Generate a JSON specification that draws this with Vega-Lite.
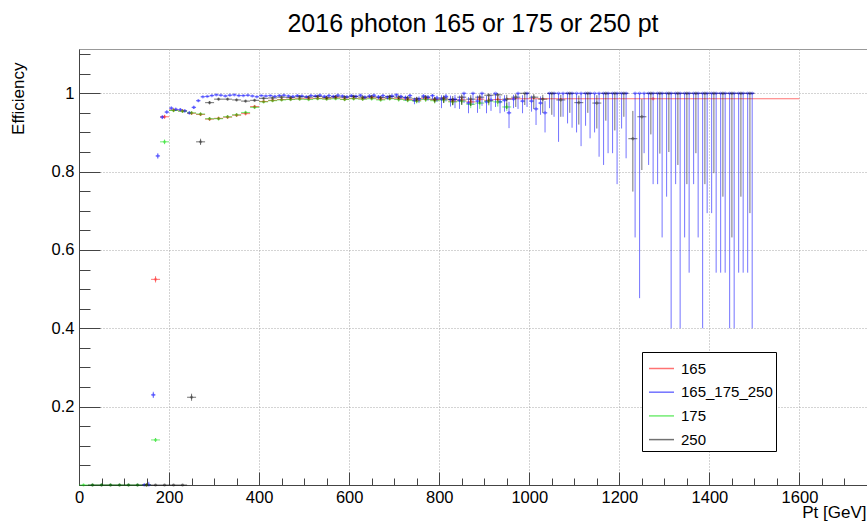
{
"$schema":"https://vega.github.io/schema/vega-lite/v6.json",
"width":788,"height":436,
"autosize":{"type":"none"},
"padding":{"left":79,"top":49,"right":0,"bottom":38},
"background":"white",
"config":{"font":"Liberation Sans","view":{"stroke":"#999","strokeWidth":1}},
"title":{"text":"2016 photon 165 or 175 or 250 pt","fontSize":25,"fontWeight":"normal","color":"#000","anchor":"middle","frame":"group","offset":12,"font":"Liberation Sans"},
"data":{"values":[
{"s":"165","x":150,"x0":140,"x1":160,"y":0,"lo":0,"hi":0.003},
{"s":"165","x":170,"x0":160,"x1":180,"y":0.525,"lo":0.517,"hi":0.533},
{"s":"165","x":190,"x0":180,"x1":200,"y":0.94,"lo":0.935,"hi":0.945},
{"s":"165","x":210,"x0":200,"x1":220,"y":0.957,"lo":0.953,"hi":0.961},
{"s":"165","x":230,"x0":220,"x1":240,"y":0.955,"lo":0.951,"hi":0.959},
{"s":"165","x":250,"x0":240,"x1":260,"y":0.949,"lo":0.945,"hi":0.953},
{"s":"165","x":270,"x0":260,"x1":280,"y":0.946,"lo":0.942,"hi":0.95},
{"s":"165","x":290,"x0":280,"x1":300,"y":0.934,"lo":0.93,"hi":0.938},
{"s":"165","x":310,"x0":300,"x1":320,"y":0.936,"lo":0.932,"hi":0.94},
{"s":"165","x":330,"x0":320,"x1":340,"y":0.939,"lo":0.935,"hi":0.943},
{"s":"165","x":350,"x0":340,"x1":360,"y":0.944,"lo":0.94,"hi":0.948},
{"s":"165","x":370,"x0":360,"x1":380,"y":0.948,"lo":0.944,"hi":0.952},
{"s":"165","x":390,"x0":380,"x1":400,"y":0.966,"lo":0.962,"hi":0.97},
{"s":"165","x":410,"x0":400,"x1":420,"y":0.979,"lo":0.976,"hi":0.982},
{"s":"165","x":430,"x0":420,"x1":440,"y":0.982,"lo":0.979,"hi":0.985},
{"s":"165","x":450,"x0":440,"x1":460,"y":0.984,"lo":0.981,"hi":0.987},
{"s":"165","x":470,"x0":460,"x1":480,"y":0.985,"lo":0.982,"hi":0.988},
{"s":"165","x":490,"x0":480,"x1":500,"y":0.986,"lo":0.983,"hi":0.989},
{"s":"165","x":510,"x0":500,"x1":520,"y":0.986,"lo":0.983,"hi":0.989},
{"s":"165","x":530,"x0":520,"x1":540,"y":0.987,"lo":0.984,"hi":0.99},
{"s":"165","x":550,"x0":540,"x1":560,"y":0.986,"lo":0.983,"hi":0.989},
{"s":"165","x":570,"x0":560,"x1":580,"y":0.988,"lo":0.985,"hi":0.991},
{"s":"165","x":590,"x0":580,"x1":600,"y":0.985,"lo":0.981,"hi":0.989},
{"s":"165","x":610,"x0":600,"x1":620,"y":0.987,"lo":0.983,"hi":0.991},
{"s":"165","x":630,"x0":620,"x1":640,"y":0.986,"lo":0.982,"hi":0.99},
{"s":"165","x":650,"x0":640,"x1":660,"y":0.988,"lo":0.984,"hi":0.992},
{"s":"165","x":670,"x0":660,"x1":680,"y":0.985,"lo":0.981,"hi":0.989},
{"s":"165","x":690,"x0":680,"x1":700,"y":0.987,"lo":0.983,"hi":0.991},
{"s":"165","x":710,"x0":700,"x1":720,"y":0.986,"lo":0.982,"hi":0.99},
{"s":"165","x":730,"x0":720,"x1":740,"y":0.984,"lo":0.979,"hi":0.988},
{"s":"165","x":750,"x0":740,"x1":760,"y":0.982,"lo":0.976,"hi":0.987},
{"s":"165","x":770,"x0":760,"x1":780,"y":0.986,"lo":0.98,"hi":0.991},
{"s":"165","x":790,"x0":780,"x1":800,"y":0.983,"lo":0.976,"hi":0.989},
{"s":"165","x":810,"x0":800,"x1":820,"y":0.985,"lo":0.977,"hi":0.991},
{"s":"165","x":830,"x0":820,"x1":840,"y":0.98,"lo":0.971,"hi":0.987},
{"s":"165","x":850,"x0":840,"x1":860,"y":0.983,"lo":0.974,"hi":0.99},
{"s":"165","x":870,"x0":860,"x1":880,"y":0.978,"lo":0.968,"hi":0.986},
{"s":"165","x":890,"x0":880,"x1":900,"y":0.985,"lo":0.975,"hi":0.992},
{"s":"165","x":910,"x0":900,"x1":920,"y":0.982,"lo":0.971,"hi":0.99},
{"s":"165","x":930,"x0":920,"x1":940,"y":0.984,"lo":0.973,"hi":0.992},
{"s":"165","x":1275,"x0":950,"x1":1600,"y":0.986,"lo":0.984,"hi":0.988},
{"s":"165_175_250","x":145,"x0":140,"x1":150,"y":0,"lo":0,"hi":0.004},
{"s":"165_175_250","x":155,"x0":150,"x1":160,"y":0,"lo":0,"hi":0.008},
{"s":"165_175_250","x":165,"x0":160,"x1":170,"y":0.23,"lo":0.222,"hi":0.238},
{"s":"165_175_250","x":175,"x0":170,"x1":180,"y":0.84,"lo":0.833,"hi":0.847},
{"s":"165_175_250","x":185,"x0":180,"x1":190,"y":0.939,"lo":0.934,"hi":0.944},
{"s":"165_175_250","x":195,"x0":190,"x1":200,"y":0.952,"lo":0.948,"hi":0.956},
{"s":"165_175_250","x":205,"x0":200,"x1":210,"y":0.962,"lo":0.958,"hi":0.966},
{"s":"165_175_250","x":215,"x0":210,"x1":220,"y":0.959,"lo":0.955,"hi":0.963},
{"s":"165_175_250","x":225,"x0":220,"x1":230,"y":0.958,"lo":0.954,"hi":0.962},
{"s":"165_175_250","x":235,"x0":230,"x1":240,"y":0.955,"lo":0.951,"hi":0.959},
{"s":"165_175_250","x":245,"x0":240,"x1":250,"y":0.95,"lo":0.946,"hi":0.954},
{"s":"165_175_250","x":255,"x0":250,"x1":260,"y":0.964,"lo":0.96,"hi":0.968},
{"s":"165_175_250","x":265,"x0":260,"x1":270,"y":0.981,"lo":0.978,"hi":0.984},
{"s":"165_175_250","x":275,"x0":270,"x1":280,"y":0.991,"lo":0.989,"hi":0.993},
{"s":"165_175_250","x":285,"x0":280,"x1":290,"y":0.992,"lo":0.99,"hi":0.994},
{"s":"165_175_250","x":295,"x0":290,"x1":300,"y":0.994,"lo":0.992,"hi":0.996},
{"s":"165_175_250","x":305,"x0":300,"x1":310,"y":0.996,"lo":0.994,"hi":0.998},
{"s":"165_175_250","x":315,"x0":310,"x1":320,"y":0.995,"lo":0.993,"hi":0.997},
{"s":"165_175_250","x":325,"x0":320,"x1":330,"y":0.993,"lo":0.991,"hi":0.995},
{"s":"165_175_250","x":335,"x0":330,"x1":340,"y":0.995,"lo":0.993,"hi":0.997},
{"s":"165_175_250","x":345,"x0":340,"x1":350,"y":0.996,"lo":0.994,"hi":0.998},
{"s":"165_175_250","x":355,"x0":350,"x1":360,"y":0.994,"lo":0.992,"hi":0.996},
{"s":"165_175_250","x":365,"x0":360,"x1":370,"y":0.994,"lo":0.992,"hi":0.996},
{"s":"165_175_250","x":375,"x0":370,"x1":380,"y":0.995,"lo":0.993,"hi":0.997},
{"s":"165_175_250","x":385,"x0":380,"x1":390,"y":0.993,"lo":0.991,"hi":0.995},
{"s":"165_175_250","x":395,"x0":390,"x1":400,"y":0.991,"lo":0.989,"hi":0.993},
{"s":"165_175_250","x":405,"x0":400,"x1":410,"y":0.994,"lo":0.992,"hi":0.996},
{"s":"165_175_250","x":415,"x0":410,"x1":420,"y":0.993,"lo":0.991,"hi":0.995},
{"s":"165_175_250","x":425,"x0":420,"x1":430,"y":0.994,"lo":0.992,"hi":0.996},
{"s":"165_175_250","x":435,"x0":430,"x1":440,"y":0.992,"lo":0.989,"hi":0.995},
{"s":"165_175_250","x":445,"x0":440,"x1":450,"y":0.994,"lo":0.991,"hi":0.997},
{"s":"165_175_250","x":455,"x0":450,"x1":460,"y":0.995,"lo":0.992,"hi":0.998},
{"s":"165_175_250","x":465,"x0":460,"x1":470,"y":0.993,"lo":0.99,"hi":0.996},
{"s":"165_175_250","x":475,"x0":470,"x1":480,"y":0.992,"lo":0.989,"hi":0.995},
{"s":"165_175_250","x":485,"x0":480,"x1":490,"y":0.994,"lo":0.991,"hi":0.997},
{"s":"165_175_250","x":495,"x0":490,"x1":500,"y":0.993,"lo":0.99,"hi":0.996},
{"s":"165_175_250","x":505,"x0":500,"x1":510,"y":0.991,"lo":0.988,"hi":0.994},
{"s":"165_175_250","x":515,"x0":510,"x1":520,"y":0.994,"lo":0.991,"hi":0.997},
{"s":"165_175_250","x":525,"x0":520,"x1":530,"y":0.993,"lo":0.99,"hi":0.996},
{"s":"165_175_250","x":535,"x0":530,"x1":540,"y":0.995,"lo":0.992,"hi":0.998},
{"s":"165_175_250","x":545,"x0":540,"x1":550,"y":0.992,"lo":0.988,"hi":0.995},
{"s":"165_175_250","x":555,"x0":550,"x1":560,"y":0.994,"lo":0.99,"hi":0.997},
{"s":"165_175_250","x":565,"x0":560,"x1":570,"y":0.992,"lo":0.988,"hi":0.995},
{"s":"165_175_250","x":575,"x0":570,"x1":580,"y":0.995,"lo":0.991,"hi":0.998},
{"s":"165_175_250","x":585,"x0":580,"x1":590,"y":0.993,"lo":0.989,"hi":0.996},
{"s":"165_175_250","x":595,"x0":590,"x1":600,"y":0.991,"lo":0.987,"hi":0.994},
{"s":"165_175_250","x":605,"x0":600,"x1":610,"y":0.994,"lo":0.99,"hi":0.997},
{"s":"165_175_250","x":615,"x0":610,"x1":620,"y":0.992,"lo":0.987,"hi":0.996},
{"s":"165_175_250","x":625,"x0":620,"x1":630,"y":0.995,"lo":0.991,"hi":0.998},
{"s":"165_175_250","x":635,"x0":630,"x1":640,"y":0.99,"lo":0.985,"hi":0.994},
{"s":"165_175_250","x":645,"x0":640,"x1":650,"y":0.993,"lo":0.988,"hi":0.997},
{"s":"165_175_250","x":655,"x0":650,"x1":660,"y":0.995,"lo":0.99,"hi":0.998},
{"s":"165_175_250","x":665,"x0":660,"x1":670,"y":0.991,"lo":0.985,"hi":0.995},
{"s":"165_175_250","x":675,"x0":670,"x1":680,"y":0.994,"lo":0.989,"hi":0.997},
{"s":"165_175_250","x":685,"x0":680,"x1":690,"y":0.99,"lo":0.984,"hi":0.994},
{"s":"165_175_250","x":695,"x0":690,"x1":700,"y":0.993,"lo":0.987,"hi":0.997},
{"s":"165_175_250","x":705,"x0":700,"x1":710,"y":0.996,"lo":0.99,"hi":0.999},
{"s":"165_175_250","x":715,"x0":710,"x1":720,"y":0.992,"lo":0.985,"hi":0.996},
{"s":"165_175_250","x":725,"x0":720,"x1":730,"y":0.989,"lo":0.981,"hi":0.994},
{"s":"165_175_250","x":735,"x0":730,"x1":740,"y":0.994,"lo":0.987,"hi":0.998},
{"s":"165_175_250","x":745,"x0":740,"x1":750,"y":0.982,"lo":0.972,"hi":0.989},
{"s":"165_175_250","x":755,"x0":750,"x1":760,"y":0.985,"lo":0.975,"hi":0.992},
{"s":"165_175_250","x":765,"x0":760,"x1":770,"y":0.993,"lo":0.985,"hi":0.997},
{"s":"165_175_250","x":775,"x0":770,"x1":780,"y":0.99,"lo":0.981,"hi":0.995},
{"s":"165_175_250","x":785,"x0":780,"x1":790,"y":0.994,"lo":0.985,"hi":0.998},
{"s":"165_175_250","x":795,"x0":790,"x1":800,"y":0.988,"lo":0.978,"hi":0.994},
{"s":"165_175_250","x":805,"x0":800,"x1":810,"y":0.985,"lo":0.962,"hi":0.995},
{"s":"165_175_250","x":815,"x0":810,"x1":820,"y":0.992,"lo":0.979,"hi":0.998},
{"s":"165_175_250","x":825,"x0":820,"x1":830,"y":0.984,"lo":0.966,"hi":0.994},
{"s":"165_175_250","x":835,"x0":830,"x1":840,"y":0.985,"lo":0.962,"hi":0.996},
{"s":"165_175_250","x":845,"x0":840,"x1":850,"y":0.982,"lo":0.96,"hi":0.994},
{"s":"165_175_250","x":855,"x0":850,"x1":860,"y":1,"lo":0.975,"hi":1},
{"s":"165_175_250","x":865,"x0":860,"x1":870,"y":0.975,"lo":0.949,"hi":0.99},
{"s":"165_175_250","x":875,"x0":870,"x1":880,"y":1,"lo":0.97,"hi":1},
{"s":"165_175_250","x":885,"x0":880,"x1":890,"y":0.98,"lo":0.95,"hi":0.994},
{"s":"165_175_250","x":895,"x0":890,"x1":900,"y":1,"lo":0.968,"hi":1},
{"s":"165_175_250","x":905,"x0":900,"x1":910,"y":0.978,"lo":0.949,"hi":0.993},
{"s":"165_175_250","x":915,"x0":910,"x1":920,"y":0.983,"lo":0.955,"hi":0.996},
{"s":"165_175_250","x":925,"x0":920,"x1":930,"y":1,"lo":0.965,"hi":1},
{"s":"165_175_250","x":935,"x0":930,"x1":940,"y":0.978,"lo":0.949,"hi":0.993},
{"s":"165_175_250","x":945,"x0":940,"x1":950,"y":0.982,"lo":0.953,"hi":0.995},
{"s":"165_175_250","x":955,"x0":950,"x1":960,"y":0.95,"lo":0.911,"hi":0.978},
{"s":"165_175_250","x":965,"x0":960,"x1":970,"y":0.985,"lo":0.962,"hi":0.996},
{"s":"165_175_250","x":975,"x0":970,"x1":980,"y":1,"lo":0.96,"hi":1},
{"s":"165_175_250","x":985,"x0":980,"x1":990,"y":0.98,"lo":0.949,"hi":0.995},
{"s":"165_175_250","x":995,"x0":990,"x1":1000,"y":1,"lo":0.965,"hi":1},
{"s":"165_175_250","x":1005,"x0":1000,"x1":1010,"y":0.98,"lo":0.953,"hi":0.994},
{"s":"165_175_250","x":1015,"x0":1010,"x1":1020,"y":0.96,"lo":0.919,"hi":0.985},
{"s":"165_175_250","x":1025,"x0":1020,"x1":1030,"y":0.975,"lo":0.945,"hi":0.992},
{"s":"165_175_250","x":1035,"x0":1030,"x1":1040,"y":0.95,"lo":0.9,"hi":0.98},
{"s":"165_175_250","x":1045,"x0":1040,"x1":1050,"y":1,"lo":0.962,"hi":1},
{"s":"165_175_250","x":1055,"x0":1050,"x1":1060,"y":1,"lo":0.94,"hi":1},
{"s":"165_175_250","x":1065,"x0":1060,"x1":1070,"y":1,"lo":0.876,"hi":1},
{"s":"165_175_250","x":1075,"x0":1070,"x1":1080,"y":1,"lo":0.94,"hi":1},
{"s":"165_175_250","x":1085,"x0":1080,"x1":1090,"y":1,"lo":0.923,"hi":1},
{"s":"165_175_250","x":1095,"x0":1090,"x1":1100,"y":1,"lo":0.912,"hi":1},
{"s":"165_175_250","x":1105,"x0":1100,"x1":1110,"y":1,"lo":0.9,"hi":1},
{"s":"165_175_250","x":1115,"x0":1110,"x1":1120,"y":1,"lo":0.865,"hi":1},
{"s":"165_175_250","x":1125,"x0":1120,"x1":1130,"y":1,"lo":0.917,"hi":1},
{"s":"165_175_250","x":1135,"x0":1130,"x1":1140,"y":1,"lo":0.885,"hi":1},
{"s":"165_175_250","x":1145,"x0":1140,"x1":1150,"y":1,"lo":0.9,"hi":1},
{"s":"165_175_250","x":1155,"x0":1150,"x1":1160,"y":1,"lo":0.838,"hi":1},
{"s":"165_175_250","x":1165,"x0":1160,"x1":1170,"y":1,"lo":0.817,"hi":1},
{"s":"165_175_250","x":1175,"x0":1170,"x1":1180,"y":1,"lo":0.847,"hi":1},
{"s":"165_175_250","x":1185,"x0":1180,"x1":1190,"y":1,"lo":0.847,"hi":1},
{"s":"165_175_250","x":1195,"x0":1190,"x1":1200,"y":1,"lo":0.768,"hi":1},
{"s":"165_175_250","x":1205,"x0":1200,"x1":1210,"y":1,"lo":0.91,"hi":1},
{"s":"165_175_250","x":1215,"x0":1210,"x1":1220,"y":1,"lo":0.834,"hi":1},
{"s":"165_175_250","x":1235,"x0":1230,"x1":1240,"y":1,"lo":0.632,"hi":1},
{"s":"165_175_250","x":1245,"x0":1240,"x1":1250,"y":1,"lo":0.477,"hi":1},
{"s":"165_175_250","x":1255,"x0":1250,"x1":1260,"y":1,"lo":0.847,"hi":1},
{"s":"165_175_250","x":1265,"x0":1260,"x1":1270,"y":1,"lo":0.817,"hi":1},
{"s":"165_175_250","x":1275,"x0":1270,"x1":1280,"y":1,"lo":0.768,"hi":1},
{"s":"165_175_250","x":1285,"x0":1280,"x1":1290,"y":1,"lo":0.768,"hi":1},
{"s":"165_175_250","x":1295,"x0":1290,"x1":1300,"y":1,"lo":0.632,"hi":1},
{"s":"165_175_250","x":1305,"x0":1300,"x1":1310,"y":1,"lo":0.736,"hi":1},
{"s":"165_175_250","x":1315,"x0":1310,"x1":1320,"y":1,"lo":0.4,"hi":1},
{"s":"165_175_250","x":1325,"x0":1320,"x1":1330,"y":1,"lo":0.768,"hi":1},
{"s":"165_175_250","x":1335,"x0":1330,"x1":1340,"y":1,"lo":0.4,"hi":1},
{"s":"165_175_250","x":1345,"x0":1340,"x1":1350,"y":1,"lo":0.632,"hi":1},
{"s":"165_175_250","x":1355,"x0":1350,"x1":1360,"y":1,"lo":0.542,"hi":1},
{"s":"165_175_250","x":1365,"x0":1360,"x1":1370,"y":1,"lo":0.768,"hi":1},
{"s":"165_175_250","x":1375,"x0":1370,"x1":1380,"y":1,"lo":0.632,"hi":1},
{"s":"165_175_250","x":1385,"x0":1380,"x1":1390,"y":1,"lo":0.4,"hi":1},
{"s":"165_175_250","x":1395,"x0":1390,"x1":1400,"y":1,"lo":0.694,"hi":1},
{"s":"165_175_250","x":1405,"x0":1400,"x1":1410,"y":1,"lo":0.694,"hi":1},
{"s":"165_175_250","x":1415,"x0":1410,"x1":1420,"y":1,"lo":0.542,"hi":1},
{"s":"165_175_250","x":1425,"x0":1420,"x1":1430,"y":1,"lo":0.542,"hi":1},
{"s":"165_175_250","x":1435,"x0":1430,"x1":1440,"y":1,"lo":0.542,"hi":1},
{"s":"165_175_250","x":1445,"x0":1440,"x1":1450,"y":1,"lo":0.4,"hi":1},
{"s":"165_175_250","x":1455,"x0":1450,"x1":1460,"y":1,"lo":0.4,"hi":1},
{"s":"165_175_250","x":1465,"x0":1460,"x1":1470,"y":1,"lo":0.542,"hi":1},
{"s":"165_175_250","x":1475,"x0":1470,"x1":1480,"y":1,"lo":0.542,"hi":1},
{"s":"165_175_250","x":1485,"x0":1480,"x1":1490,"y":1,"lo":0.542,"hi":1},
{"s":"165_175_250","x":1495,"x0":1490,"x1":1500,"y":1,"lo":0.4,"hi":1},
{"s":"175","x":10,"x0":0,"x1":20,"y":0,"lo":0,"hi":0.003},
{"s":"175","x":30,"x0":20,"x1":40,"y":0,"lo":0,"hi":0.003},
{"s":"175","x":50,"x0":40,"x1":60,"y":0,"lo":0,"hi":0.003},
{"s":"175","x":70,"x0":60,"x1":80,"y":0,"lo":0,"hi":0.003},
{"s":"175","x":90,"x0":80,"x1":100,"y":0,"lo":0,"hi":0.003},
{"s":"175","x":110,"x0":100,"x1":120,"y":0,"lo":0,"hi":0.003},
{"s":"175","x":130,"x0":120,"x1":140,"y":0,"lo":0,"hi":0.003},
{"s":"175","x":150,"x0":140,"x1":160,"y":0,"lo":0,"hi":0.003},
{"s":"175","x":170,"x0":160,"x1":180,"y":0.115,"lo":0.11,"hi":0.12},
{"s":"175","x":190,"x0":180,"x1":200,"y":0.876,"lo":0.87,"hi":0.882},
{"s":"175","x":210,"x0":200,"x1":220,"y":0.956,"lo":0.952,"hi":0.96},
{"s":"175","x":230,"x0":220,"x1":240,"y":0.954,"lo":0.95,"hi":0.958},
{"s":"175","x":250,"x0":240,"x1":260,"y":0.95,"lo":0.946,"hi":0.954},
{"s":"175","x":270,"x0":260,"x1":280,"y":0.947,"lo":0.943,"hi":0.951},
{"s":"175","x":290,"x0":280,"x1":300,"y":0.935,"lo":0.931,"hi":0.939},
{"s":"175","x":310,"x0":300,"x1":320,"y":0.935,"lo":0.931,"hi":0.939},
{"s":"175","x":330,"x0":320,"x1":340,"y":0.94,"lo":0.936,"hi":0.944},
{"s":"175","x":350,"x0":340,"x1":360,"y":0.945,"lo":0.941,"hi":0.949},
{"s":"175","x":370,"x0":360,"x1":380,"y":0.951,"lo":0.947,"hi":0.955},
{"s":"175","x":390,"x0":380,"x1":400,"y":0.964,"lo":0.96,"hi":0.968},
{"s":"175","x":410,"x0":400,"x1":420,"y":0.978,"lo":0.975,"hi":0.981},
{"s":"175","x":430,"x0":420,"x1":440,"y":0.981,"lo":0.978,"hi":0.984},
{"s":"175","x":450,"x0":440,"x1":460,"y":0.983,"lo":0.98,"hi":0.986},
{"s":"175","x":470,"x0":460,"x1":480,"y":0.984,"lo":0.981,"hi":0.987},
{"s":"175","x":490,"x0":480,"x1":500,"y":0.985,"lo":0.982,"hi":0.988},
{"s":"175","x":510,"x0":500,"x1":520,"y":0.984,"lo":0.981,"hi":0.987},
{"s":"175","x":530,"x0":520,"x1":540,"y":0.986,"lo":0.983,"hi":0.989},
{"s":"175","x":550,"x0":540,"x1":560,"y":0.985,"lo":0.982,"hi":0.988},
{"s":"175","x":570,"x0":560,"x1":580,"y":0.986,"lo":0.983,"hi":0.989},
{"s":"175","x":590,"x0":580,"x1":600,"y":0.984,"lo":0.98,"hi":0.988},
{"s":"175","x":610,"x0":600,"x1":620,"y":0.986,"lo":0.982,"hi":0.99},
{"s":"175","x":630,"x0":620,"x1":640,"y":0.985,"lo":0.981,"hi":0.989},
{"s":"175","x":650,"x0":640,"x1":660,"y":0.986,"lo":0.982,"hi":0.99},
{"s":"175","x":670,"x0":660,"x1":680,"y":0.983,"lo":0.979,"hi":0.987},
{"s":"175","x":690,"x0":680,"x1":700,"y":0.986,"lo":0.982,"hi":0.99},
{"s":"175","x":710,"x0":700,"x1":720,"y":0.984,"lo":0.979,"hi":0.988},
{"s":"175","x":730,"x0":720,"x1":740,"y":0.982,"lo":0.977,"hi":0.987},
{"s":"175","x":750,"x0":740,"x1":760,"y":0.98,"lo":0.974,"hi":0.985},
{"s":"175","x":770,"x0":760,"x1":780,"y":0.984,"lo":0.978,"hi":0.989},
{"s":"175","x":790,"x0":780,"x1":800,"y":0.981,"lo":0.974,"hi":0.987},
{"s":"175","x":810,"x0":800,"x1":820,"y":0.983,"lo":0.975,"hi":0.989},
{"s":"175","x":830,"x0":820,"x1":840,"y":0.978,"lo":0.969,"hi":0.985},
{"s":"175","x":850,"x0":840,"x1":860,"y":0.98,"lo":0.971,"hi":0.987},
{"s":"175","x":870,"x0":860,"x1":880,"y":0.972,"lo":0.962,"hi":0.98},
{"s":"175","x":890,"x0":880,"x1":900,"y":0.975,"lo":0.96,"hi":0.985},
{"s":"175","x":910,"x0":900,"x1":920,"y":0.98,"lo":0.969,"hi":0.988},
{"s":"175","x":930,"x0":920,"x1":940,"y":0.978,"lo":0.966,"hi":0.987},
{"s":"175","x":950,"x0":940,"x1":960,"y":0.965,"lo":0.955,"hi":0.975},
{"s":"250","x":30,"x0":20,"x1":40,"y":0,"lo":0,"hi":0.002},
{"s":"250","x":50,"x0":40,"x1":60,"y":0,"lo":0,"hi":0.002},
{"s":"250","x":70,"x0":60,"x1":80,"y":0,"lo":0,"hi":0.002},
{"s":"250","x":90,"x0":80,"x1":100,"y":0,"lo":0,"hi":0.002},
{"s":"250","x":110,"x0":100,"x1":120,"y":0,"lo":0,"hi":0.002},
{"s":"250","x":130,"x0":120,"x1":140,"y":0,"lo":0,"hi":0.002},
{"s":"250","x":150,"x0":140,"x1":160,"y":0,"lo":0,"hi":0.002},
{"s":"250","x":170,"x0":160,"x1":180,"y":0,"lo":0,"hi":0.002},
{"s":"250","x":190,"x0":180,"x1":200,"y":0,"lo":0,"hi":0.002},
{"s":"250","x":210,"x0":200,"x1":220,"y":0,"lo":0,"hi":0.002},
{"s":"250","x":230,"x0":220,"x1":240,"y":0,"lo":0,"hi":0.002},
{"s":"250","x":250,"x0":240,"x1":260,"y":0.224,"lo":0.215,"hi":0.233},
{"s":"250","x":270,"x0":260,"x1":280,"y":0.876,"lo":0.868,"hi":0.884},
{"s":"250","x":290,"x0":280,"x1":300,"y":0.976,"lo":0.972,"hi":0.98},
{"s":"250","x":310,"x0":300,"x1":320,"y":0.985,"lo":0.982,"hi":0.988},
{"s":"250","x":330,"x0":320,"x1":340,"y":0.985,"lo":0.982,"hi":0.988},
{"s":"250","x":350,"x0":340,"x1":360,"y":0.983,"lo":0.98,"hi":0.986},
{"s":"250","x":370,"x0":360,"x1":380,"y":0.98,"lo":0.977,"hi":0.983},
{"s":"250","x":390,"x0":380,"x1":400,"y":0.982,"lo":0.979,"hi":0.985},
{"s":"250","x":410,"x0":400,"x1":420,"y":0.987,"lo":0.984,"hi":0.99},
{"s":"250","x":430,"x0":420,"x1":440,"y":0.988,"lo":0.985,"hi":0.991},
{"s":"250","x":450,"x0":440,"x1":460,"y":0.99,"lo":0.987,"hi":0.993},
{"s":"250","x":470,"x0":460,"x1":480,"y":0.989,"lo":0.986,"hi":0.992},
{"s":"250","x":490,"x0":480,"x1":500,"y":0.991,"lo":0.988,"hi":0.994},
{"s":"250","x":510,"x0":500,"x1":520,"y":0.99,"lo":0.987,"hi":0.993},
{"s":"250","x":530,"x0":520,"x1":540,"y":0.992,"lo":0.989,"hi":0.995},
{"s":"250","x":550,"x0":540,"x1":560,"y":0.989,"lo":0.985,"hi":0.993},
{"s":"250","x":570,"x0":560,"x1":580,"y":0.991,"lo":0.987,"hi":0.995},
{"s":"250","x":590,"x0":580,"x1":600,"y":0.99,"lo":0.986,"hi":0.994},
{"s":"250","x":610,"x0":600,"x1":620,"y":0.992,"lo":0.988,"hi":0.995},
{"s":"250","x":630,"x0":620,"x1":640,"y":0.99,"lo":0.986,"hi":0.994},
{"s":"250","x":650,"x0":640,"x1":660,"y":0.991,"lo":0.987,"hi":0.995},
{"s":"250","x":670,"x0":660,"x1":680,"y":0.989,"lo":0.984,"hi":0.993},
{"s":"250","x":690,"x0":680,"x1":700,"y":0.992,"lo":0.987,"hi":0.996},
{"s":"250","x":710,"x0":700,"x1":720,"y":0.99,"lo":0.985,"hi":0.994},
{"s":"250","x":730,"x0":720,"x1":740,"y":0.988,"lo":0.982,"hi":0.993},
{"s":"250","x":750,"x0":740,"x1":760,"y":0.986,"lo":0.979,"hi":0.991},
{"s":"250","x":770,"x0":760,"x1":780,"y":0.99,"lo":0.983,"hi":0.995},
{"s":"250","x":790,"x0":780,"x1":800,"y":0.985,"lo":0.977,"hi":0.991},
{"s":"250","x":810,"x0":800,"x1":820,"y":0.988,"lo":0.975,"hi":0.995},
{"s":"250","x":830,"x0":820,"x1":840,"y":0.984,"lo":0.97,"hi":0.993},
{"s":"250","x":850,"x0":840,"x1":860,"y":0.99,"lo":0.97,"hi":0.997},
{"s":"250","x":870,"x0":860,"x1":880,"y":0.985,"lo":0.968,"hi":0.995},
{"s":"250","x":890,"x0":880,"x1":900,"y":0.99,"lo":0.972,"hi":0.997},
{"s":"250","x":910,"x0":900,"x1":920,"y":0.995,"lo":0.975,"hi":0.999},
{"s":"250","x":930,"x0":920,"x1":940,"y":0.996,"lo":0.982,"hi":0.999},
{"s":"250","x":950,"x0":940,"x1":960,"y":0.985,"lo":0.96,"hi":0.996},
{"s":"250","x":970,"x0":960,"x1":980,"y":0.99,"lo":0.965,"hi":0.998},
{"s":"250","x":990,"x0":980,"x1":1000,"y":1,"lo":0.97,"hi":1},
{"s":"250","x":1010,"x0":1000,"x1":1020,"y":0.99,"lo":0.96,"hi":0.998},
{"s":"250","x":1030,"x0":1020,"x1":1040,"y":0.985,"lo":0.95,"hi":0.996},
{"s":"250","x":1050,"x0":1040,"x1":1060,"y":1,"lo":0.945,"hi":1},
{"s":"250","x":1070,"x0":1060,"x1":1080,"y":0.983,"lo":0.94,"hi":0.996},
{"s":"250","x":1090,"x0":1080,"x1":1100,"y":1,"lo":0.95,"hi":1},
{"s":"250","x":1110,"x0":1100,"x1":1120,"y":0.976,"lo":0.92,"hi":0.994},
{"s":"250","x":1130,"x0":1120,"x1":1140,"y":1,"lo":0.95,"hi":1},
{"s":"250","x":1150,"x0":1140,"x1":1160,"y":0.975,"lo":0.91,"hi":0.995},
{"s":"250","x":1170,"x0":1160,"x1":1180,"y":1,"lo":0.93,"hi":1},
{"s":"250","x":1190,"x0":1180,"x1":1200,"y":1,"lo":0.905,"hi":1},
{"s":"250","x":1210,"x0":1200,"x1":1220,"y":1,"lo":0.94,"hi":1},
{"s":"250","x":1230,"x0":1220,"x1":1240,"y":0.884,"lo":0.749,"hi":0.955},
{"s":"250","x":1250,"x0":1240,"x1":1260,"y":0.94,"lo":0.804,"hi":0.985},
{"s":"250","x":1270,"x0":1260,"x1":1280,"y":1,"lo":0.895,"hi":1},
{"s":"250","x":1290,"x0":1280,"x1":1300,"y":1,"lo":0.846,"hi":1},
{"s":"250","x":1310,"x0":1300,"x1":1320,"y":1,"lo":0.85,"hi":1},
{"s":"250","x":1330,"x0":1320,"x1":1340,"y":1,"lo":0.817,"hi":1},
{"s":"250","x":1350,"x0":1340,"x1":1360,"y":1,"lo":0.768,"hi":1},
{"s":"250","x":1370,"x0":1360,"x1":1380,"y":1,"lo":0.847,"hi":1},
{"s":"250","x":1390,"x0":1380,"x1":1400,"y":1,"lo":0.768,"hi":1},
{"s":"250","x":1410,"x0":1400,"x1":1420,"y":1,"lo":0.796,"hi":1},
{"s":"250","x":1430,"x0":1420,"x1":1440,"y":1,"lo":0.736,"hi":1},
{"s":"250","x":1450,"x0":1440,"x1":1460,"y":1,"lo":0.632,"hi":1},
{"s":"250","x":1470,"x0":1460,"x1":1480,"y":1,"lo":0.736,"hi":1},
{"s":"250","x":1490,"x0":1480,"x1":1500,"y":1,"lo":0.694,"hi":1}
]},
"layer":[
{"mark":{"type":"rule","opacity":0.55,"strokeWidth":1},
 "encoding":{
  "x":{"field":"x0","type":"quantitative","scale":{"domain":[0,1750],"nice":false,"zero":false},
   "axis":{"orient":"bottom","values":[0,200,400,600,800,1000,1200,1400,1600],"format":"d","tickSize":-13,"labelPadding":17,"labelFontSize":16.5,"labelFont":"Liberation Sans","labelColor":"#000","labelFlush":false,"labelOverlap":false,"domainColor":"#444","tickColor":"#444","grid":true,"gridDash":[1,2],"gridColor":"#a8a8a8","title":"Pt [GeV]","titleFont":"Liberation Sans","titleFontSize":17,"titleFontWeight":"normal","titleColor":"#000","titleX":787,"titleY":32,"titleAlign":"right","titleBaseline":"alphabetic"}},
  "x2":{"field":"x1"},
  "y":{"field":"y","type":"quantitative","scale":{"domain":[0,1.113],"nice":false,"zero":false},
   "axis":{"orient":"left","values":[0.2,0.4,0.6,0.8,1],"format":"~g","tickSize":-21,"labelPadding":26,"labelFontSize":16.5,"labelFont":"Liberation Sans","labelColor":"#000","labelOverlap":false,"domainColor":"#444","tickColor":"#444","grid":true,"gridDash":[1,2],"gridColor":"#a8a8a8","title":"Efficiency","titleFont":"Liberation Sans","titleFontSize":17,"titleFontWeight":"normal","titleColor":"#000","titleAngle":-90,"titleX":-61,"titleY":13,"titleAlign":"right","titleBaseline":"middle"}},
  "color":{"field":"s","type":"nominal","scale":{"domain":["165","165_175_250","175","250"],"range":["#ff0000","#0000ff","#00dd00","#000000"]},
   "legend":{"orient":"none","legendX":563,"legendY":303,"title":null,"symbolType":"stroke","symbolSize":625,"symbolStrokeWidth":1.5,"symbolOpacity":0.6,"labelFontSize":15,"labelFont":"Liberation Sans","labelColor":"#000","padding":3,"rowPadding":1.7,"strokeColor":"#000","fillColor":"#fff","symbolOffset":3,"labelOffset":6,"labelLimit":200}}
 }},
{"mark":{"type":"rule","opacity":0.55,"strokeWidth":1},
 "encoding":{
  "x":{"field":"x","type":"quantitative","axis":{"orient":"bottom","values":[0,50,100,150,200,250,300,350,400,450,500,550,600,650,700,750,800,850,900,950,1000,1050,1100,1150,1200,1250,1300,1350,1400,1450,1500,1550,1600,1650,1700,1750],"tickSize":-7,"labels":false,"domain":false,"grid":false,"title":null,"tickColor":"#444"}},
  "y":{"field":"lo","type":"quantitative","axis":{"orient":"left","values":[0,0.05,0.1,0.15,0.2,0.25,0.3,0.35,0.4,0.45,0.5,0.55,0.6,0.65,0.7,0.75,0.8,0.85,0.9,0.95,1,1.05,1.1],"tickSize":-11,"labels":false,"domain":false,"grid":false,"title":null,"tickColor":"#444"}},
  "y2":{"field":"hi"},
  "color":{"field":"s","type":"nominal"}
 }},
{"mark":{"type":"point","shape":"circle","size":6,"filled":false,"opacity":0.45,"strokeWidth":0.8},
 "encoding":{
  "x":{"field":"x","type":"quantitative","axis":null},
  "y":{"field":"y","type":"quantitative","axis":null},
  "color":{"field":"s","type":"nominal"}
 }}
],
"resolve":{"axis":{"x":"independent","y":"independent"}}
}
